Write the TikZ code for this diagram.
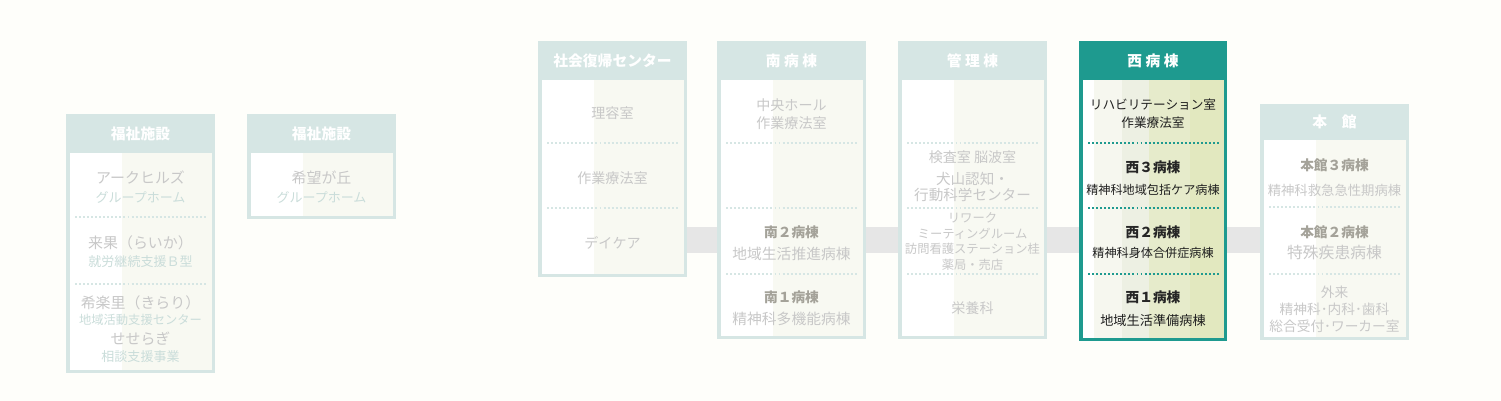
\documentclass[tikz,border=0pt]{standalone}
\usepackage{fontspec}
\setmainfont{Noto Sans CJK JP}
\usetikzlibrary{calc}
\definecolor{paper}{HTML}{FEFEFA}
\definecolor{wallc}{HTML}{D6E6E4}
\definecolor{bodyr}{HTML}{F8F9F2}
\definecolor{barc}{HTML}{E6E6E6}
\definecolor{txtc}{HTML}{C8C8C8}
\definecolor{subc}{HTML}{CADDDA}
\definecolor{boldc}{HTML}{A4A299}
\definecolor{tealc}{HTML}{1E9A8F}
\definecolor{hlA}{HTML}{F6F7EF}
\definecolor{hlB}{HTML}{EDF0E3}
\definecolor{hlC}{HTML}{E6EBCB}
\definecolor{hlD}{HTML}{E2E8BF}
\tikzset{
  hdr/.style={font=\bfseries\fontsize{8.4}{10}\selectfont,text=white,inner sep=0pt},
  lbl/.style={font=\fontsize{8}{10.2}\selectfont,text=txtc,align=center,inner sep=0pt},
  lblS/.style={font=\fontsize{7}{8.8}\selectfont,text=txtc,align=center,inner sep=0pt},
  sub/.style={font=\fontsize{7.4}{9}\selectfont,text=subc,align=center,inner sep=0pt},
  bh/.style={font=\bfseries\fontsize{7.8}{9}\selectfont,text=boldc,inner sep=0pt},
  hl/.style={font=\fontsize{7.2}{10.2}\selectfont,text=black!88,align=center,inner sep=0pt},
  hlb/.style={font=\bfseries\fontsize{7.8}{9}\selectfont,text=black!85,inner sep=0pt},
  sepline/.style={wallc,line width=1.1pt,dash pattern=on 1.1pt off 1.2pt},
  linkbar/.style={barc,line width=14.7pt}
}
% box: left, top, bottom, header bottom
\newcommand{\bldg}[4]{%
  \fill[wallc] (#1,#2) rectangle (#1+149,#3);
  \fill[white] (#1+4,#4) rectangle (#1+56,#3-3);
  \fill[bodyr] (#1+56,#4) rectangle (#1+146,#3-3);}
\newcommand{\sep}[2]{\draw[sepline] (#1+9,#2) -- (#1+141,#2);}

\begin{document}
\begin{tikzpicture}[x=0.02cm,y=-0.02cm]
\useasboundingbox (0,0) rectangle (1501,401);
\fill[paper] (0,0) rectangle (1501,401);

% corridor
\coordinate (barL) at (680,240);
\coordinate (barR) at (1266,240);
\draw[linkbar] (barL) -- (barR);

% welfare facilities
\bldg{66}{114}{373}{153}
\node[hdr] (fukuA) at (140.5,133.5) {福祉施設};
\node[lbl,font=\fontsize{8.5}{10}\selectfont] (arc) at (140.5,178) {アークヒルズ};
\node[sub] (arcS) at (140.5,197) {グループホーム};
\sep{66}{217}
\node[lbl,font=\fontsize{8.5}{10}\selectfont] (raika) at (140.5,243) {来果（らいか）};
\node[sub] (raikaS) at (140.5,262) {就労継続支援Ｂ型};
\sep{66}{284}
\node[lbl,font=\fontsize{8.5}{10}\selectfont] (kirari) at (140.5,303) {希楽里（きらり）};
\node[sub,font=\fontsize{7}{9}\selectfont] (kirariS) at (140.5,320) {地域活動支援センター};
\node[lbl,font=\fontsize{8.5}{10}\selectfont] (seseragi) at (140.5,339) {せせらぎ};
\node[sub] (seseragiS) at (140.5,357) {相談支援事業};

\bldg{247}{114}{219}{153}
\node[hdr] (fukuB) at (321.5,133.5) {福祉施設};
\node[lbl,font=\fontsize{8.5}{10}\selectfont] (kibo) at (321.5,178) {希望が丘};
\node[sub] (kiboS) at (321.5,197) {グループホーム};

% rehabilitation center
\bldg{538}{41}{277}{80}
\node[hdr] (shakai) at (612.5,60.5) {社会復帰センター};
\node[lbl] (riyo) at (612.5,113) {理容室};
\sep{538}{143}
\node[lbl] (sagyoA) at (612.5,178) {作業療法室};
\sep{538}{208}
\node[lbl] (daycare) at (612.5,243) {デイケア};

% south ward
\bldg{717}{41}{339}{80}
\node[hdr] (minami) at (791.5,60.5) {南 病 棟};
\node[lbl] (hall) at (791.5,114) {中央ホール\\作業療法室};
\sep{717}{143}
\sep{717}{208}
\node[bh] (minami2) at (791.5,232) {南２病棟};
\node[lbl,font=\fontsize{8.4}{10}\selectfont] (minami2S) at (791.5,254) {地域生活推進病棟};
\sep{717}{274}
\node[bh] (minami1) at (791.5,297) {南１病棟};
\node[lbl,font=\fontsize{8.4}{10}\selectfont] (minami1S) at (791.5,319) {精神科多機能病棟};

% administration
\bldg{898}{41}{339}{80}
\node[hdr] (kanri) at (972.5,60.5) {管 理 棟};
\sep{898}{143}
\node[lbl] (kensa) at (972.5,157) {検査室 脳波室};
\node[lbl,font=\fontsize{8.3}{9.2}\selectfont] (inuyama) at (972.5,187) {犬山認知・\\行動科学センター};
\sep{898}{208}
\node[lblS] (rework) at (972.5,241.5) {リワーク\\ミーティングルーム\\訪問看護ステーション桂\\薬局・売店};
\sep{898}{274}
\node[lbl] (eiyo) at (972.5,308) {栄養科};

% west ward (highlighted)
\fill[tealc] (1079,41) rectangle (1227,341);
\fill[white] (1083,80) rectangle (1094,338);
\fill[hlA] (1094,80) rectangle (1122,338);
\fill[hlB] (1122,80) rectangle (1149,338);
\fill[hlC] (1149,80) rectangle (1190,338);
\fill[hlD] (1190,80) rectangle (1224,338);
\node[hdr] (nishi) at (1153,60.5) {西 病 棟};
\node[hl] (reha) at (1153,114) {リハビリテーション室\\作業療法室};
\draw[sepline,tealc] (1088,143) -- (1220,143);
\node[hlb] (nishi3) at (1153,167) {西３病棟};
\node[hl,font=\fontsize{6.9}{9}\selectfont] (nishi3S) at (1153,190) {精神科地域包括ケア病棟};
\draw[sepline,tealc] (1088,208) -- (1220,208);
\node[hlb] (nishi2) at (1153,232) {西２病棟};
\node[hl,font=\fontsize{6.9}{9}\selectfont] (nishi2S) at (1153,253) {精神科身体合併症病棟};
\draw[sepline,tealc] (1088,274) -- (1220,274);
\node[hlb] (nishi1) at (1153,297) {西１病棟};
\node[hl,font=\fontsize{7.5}{9}\selectfont] (nishi1S) at (1153,320) {地域生活準備病棟};

% main building
\bldg{1260}{104}{340}{140}
\node[hdr] (honkan) at (1334.5,122) {本\hspace{1em}館};
\node[bh] (honkan3) at (1334.5,165) {本館３病棟};
\node[lbl,font=\fontsize{7.6}{9}\selectfont] (honkan3S) at (1334.5,190) {精神科救急急性期病棟};
\sep{1260}{207}
\node[bh] (honkan2) at (1334.5,232) {本館２病棟};
\node[lbl,font=\fontsize{9}{10}\selectfont] (honkan2S) at (1334.5,253) {特殊疾患病棟};
\sep{1260}{274}
\node[lbl,font=\fontsize{7.8}{9.6}\selectfont] (gairai) at (1334.5,309.5) {外来\\精神科･内科･歯科\\総合受付･ワーカー室};
\end{tikzpicture}
\end{document}
